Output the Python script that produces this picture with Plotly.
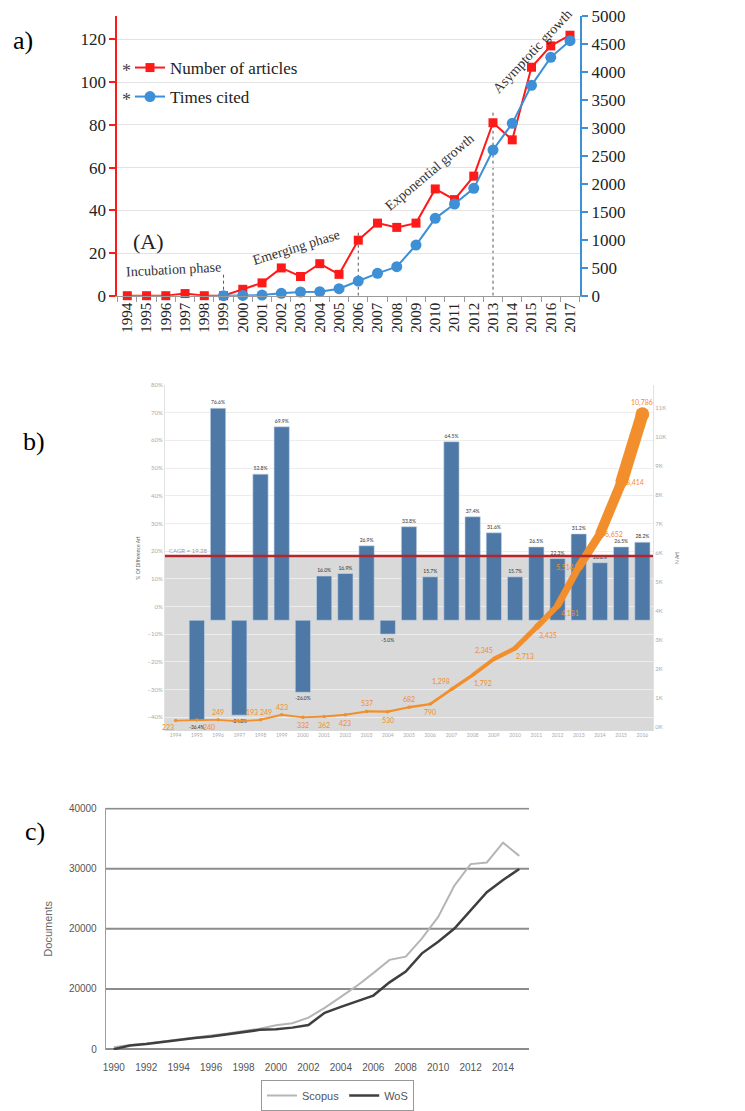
import plotly.graph_objects as go

W, H = 745, 1111

# ---------------- data ----------------
# panel a
years_a = list(range(1994, 2018))
articles = [0, 0, 0, 1, 0, 0, 3, 6, 13, 9, 15, 10, 26, 34, 32, 34, 50, 45, 56, 81, 73, 107, 117, 122]
cited_years = list(range(1999, 2018))
cited = [0, 5, 12, 42, 66, 72, 125, 262, 400, 519, 906, 1383, 1639, 1919, 2604, 3081, 3761, 4261, 4559]
phase_years = [1999, 2006, 2013]
phase_heights = [11, 31, 87]

# panel b
years_b = list(range(1994, 2017))
growth = [None, -36.4, 76.6, -34.3, 52.8, 69.9, -26.0, 16.0, 16.9, 26.9, -5.0, 33.8, 15.7,
          64.5, 37.4, 31.6, 15.7, 26.5, 22.3, 31.2, 20.8, 26.5, 28.2]
n_art = [223, 240, 249, 193, 249, 423, 332, 362, 423, 537, 530, 682, 790,
         1298, 1792, 2345, 2713, 3435, 4181, 5514, 6652, 8414, 10786]
cagr_label = "CAGR = 19.28"
cagr_level = 18.2
bar_base = -5

# panel c
years_c = list(range(1990, 2016))
scopus = [300, 700, 930, 1260, 1540, 1920, 2250, 2580, 3020, 3400, 3960, 4290, 5220, 6870,
          8680, 10550, 12640, 14840, 15380, 18400, 21980, 27200, 30770, 31040, 34340, 32140]
wos = [0, 600, 850, 1200, 1500, 1850, 2100, 2500, 2900, 3200, 3300, 3570, 4010, 6040,
       7030, 7970, 8900, 11100, 12910, 15930, 17860, 20050, 23080, 26100, 28130, 29950]
c_tickvals = [0, 10000, 20000, 30000, 40000]
c_ticktext = ["0", "20000", "20000", "30000", "40000"]

# label offsets (pixels, dx right, dy down) for the orange value labels
label_offsets = [(-8, 6), (12, 7), (0, -8), (13, -9), (6, -8), (0, -8), (0, 8), (0, 8), (0, 8),
                 (0, -8), (0, 8), (0, -8), (0, 8), (-10, -8), (10, 8), (-10, -8), (10, 8),
                 (12, 8), (12, 8), (-14, 0), (14, 0), (14, 0), (0, -12)]


def px(x):
    return x / W


def py(y):
    return 1 - y / H


SERIF = "Liberation Serif, Times New Roman, serif"
TAB = "Lato, Open Sans, sans-serif"
NARROW = "Liberation Sans Narrow, Liberation Sans, Arial, sans-serif"

RED = "#ff1a1a"
BLUE = "#3d8fd6"
BAR = "#4e79a7"
ORANGE = "#f28e2b"

fig = go.Figure()

# ---------- panel a ----------
fig.add_trace(go.Scatter(
    x=years_a, y=articles, mode="lines+markers", name="Number of articles",
    line=dict(color=RED, width=2), marker=dict(symbol="square", size=9, color=RED),
    xaxis="x", yaxis="y", legend="legend", cliponaxis=False))
fig.add_trace(go.Scatter(
    x=cited_years, y=cited, mode="lines+markers", name="Times cited",
    line=dict(color=BLUE, width=2), marker=dict(symbol="circle", size=11, color=BLUE),
    xaxis="x", yaxis="y2", legend="legend3", cliponaxis=False))

shapes = []
for yr, h in zip(phase_years, phase_heights):
    shapes.append(dict(type="line", xref="x", yref="y", x0=yr, x1=yr, y0=0, y1=h,
                       line=dict(color="#555", width=1, dash="dot"), layer="below"))

# ---------- panel b ----------
bx = [y for y, g in zip(years_b, growth) if g is not None]
bg = [g for g in growth if g is not None]
fig.add_trace(go.Bar(
    x=bx, y=bg, base=bar_base, marker=dict(color=BAR, line=dict(color="#c9d6e6", width=0.6)),
    width=0.72, text=[f"{v:.1f}%" for v in bg], textposition="outside",
    textfont=dict(size=5, color="#333", family=TAB), cliponaxis=False,
    xaxis="x2", yaxis="y3", showlegend=False, hoverinfo="skip"))

# varying width orange line
for i in range(len(years_b) - 1):
    w = 1.5 + (n_art[i] + n_art[i + 1]) / 2 / 880
    fig.add_trace(go.Scatter(
        x=[years_b[i], years_b[i + 1]], y=[n_art[i], n_art[i + 1]], mode="lines",
        line=dict(color=ORANGE, width=w), xaxis="x2", yaxis="y4", showlegend=False,
        hoverinfo="skip"))
fig.add_trace(go.Scatter(
    x=years_b, y=n_art, mode="markers",
    marker=dict(color=ORANGE, size=[max(3.5, 1.5 + v / 880) for v in n_art],
                line=dict(width=0), opacity=1),
    xaxis="x2", yaxis="y4", showlegend=False, hoverinfo="skip"))

shapes.append(dict(type="rect", xref="x2", yref="y3", x0=1993.5, x1=2016.5, y0=-45, y1=cagr_level,
                   fillcolor="#d9d9d9", line=dict(width=0), layer="below"))
shapes.append(dict(type="line", xref="x2", yref="y3", x0=1993.5, x1=2016.5, y0=cagr_level,
                   y1=cagr_level, line=dict(color="#b3262b", width=2.5), layer="above"))

# ---------- panel c ----------
fig.add_trace(go.Scatter(
    x=years_c, y=scopus, mode="lines", name="Scopus", line=dict(color="#b5b5b5", width=2),
    xaxis="x3", yaxis="y5", legend="legend2"))
fig.add_trace(go.Scatter(
    x=years_c, y=wos, mode="lines", name="WoS", line=dict(color="#3f3f3f", width=2.5),
    xaxis="x3", yaxis="y5", legend="legend2"))
for v in c_tickvals:
    shapes.append(dict(type="line", xref="x3 domain", yref="y5", x0=0, x1=1, y0=v, y1=v,
                       line=dict(color="#8c8c8c", width=2), layer="below"))


def ann(text, x, y, size, family=SERIF, color="#222", angle=0):
    return dict(text=text, x=px(x), y=py(y), xref="paper", yref="paper", showarrow=False,
                xanchor="center", yanchor="middle", textangle=angle,
                font=dict(family=family, size=size, color=color))


annotations = [
    ann("a)", 23, 40, 26, color="#000"),
    ann("b)", 34, 441, 26, color="#000"),
    ann("c)", 35, 831, 26, color="#000"),
    ann("*", 126, 71, 18, color="#444"),
    ann("*", 126, 100, 18, color="#444"),
    ann("(A)", 148, 241, 22),
    ann("Incubation phase", 173, 269, 14, color="#333", angle=-3),
    ann("Emerging phase", 296, 247, 14, color="#333", angle=-17),
    ann("Exponential growth", 429, 172, 14, color="#333", angle=-40),
    ann("Asymptotic growth", 532, 51, 14, color="#333", angle=-47),
    dict(text=cagr_label, x=1993.6, y=cagr_level, xref="x2", yref="y3", showarrow=False,
         xanchor="left", yanchor="bottom", font=dict(family=TAB, size=6, color="#999")),
]
for yr, v, (dx, dy) in zip(years_b, n_art, label_offsets):
    annotations.append(dict(text=f"{v:,}", x=yr, y=v, xref="x2", yref="y4", showarrow=False,
                            xanchor="center", yanchor="middle", xshift=dx, yshift=-dy,
                            font=dict(family=TAB, size=7, color=ORANGE)))

fig.update_layout(
    width=W, height=H, margin=dict(l=0, r=0, t=0, b=0, autoexpand=False),
    paper_bgcolor="white", plot_bgcolor="white",
    shapes=shapes, annotations=annotations, bargap=0.3,
    xaxis=dict(domain=[px(117.3), px(580)], anchor="y", range=[1993.48, 2017.52], automargin=False,
               tickvals=years_a, tickangle=-90, tickfont=dict(family=SERIF, size=15, color="#222"),
               showgrid=False, showline=True, linecolor="#9a9a9a", linewidth=1, ticks="",
               minor=dict(ticks="outside", tick0=1993.5, dtick=1, ticklen=5, tickcolor="#9a9a9a"),
               zeroline=False),
    yaxis=dict(domain=[py(295.7), py(16)], anchor="x", range=[0, 131], automargin=False,
               tickvals=[0, 20, 40, 60, 80, 100, 120], showline=True, linecolor=RED, linewidth=2,
               ticks="outside", tickcolor=RED, ticklen=6, tickwidth=2,
               gridcolor="#e3e3e3", zeroline=False,
               tickfont=dict(family=SERIF, size=17, color="#222")),
    yaxis2=dict(overlaying="y", anchor="x", side="right", range=[0, 5000], dtick=500, automargin=False,
                showline=True, linecolor=BLUE, linewidth=2, ticks="outside", tickcolor=BLUE,
                ticklen=6, tickwidth=2, showgrid=False, zeroline=False,
                tickfont=dict(family=SERIF, size=17, color="#222")),
    xaxis2=dict(domain=[px(165), px(653)], anchor="y3", range=[1993.5, 2016.5], automargin=False,
                tickvals=years_b, tickfont=dict(family=TAB, size=5, color="#aaa"),
                showgrid=False, showline=False, zeroline=False, ticks=""),
    yaxis3=dict(domain=[py(731), py(385)], anchor="x2", range=[-45, 80], dtick=10, automargin=False,
                ticksuffix="%", tickfont=dict(family=TAB, size=6, color="#aaa"),
                gridcolor="#ededed", zeroline=False, showline=True, linecolor="#e2e2e2",
                title=dict(text="% Of Difference Art", font=dict(family=TAB, size=5, color="#666"),
                           standoff=6)),
    yaxis4=dict(overlaying="y3", anchor="x2", side="right", range=[-138, 11793], automargin=False,
                tickvals=[k * 1000 for k in range(12)], ticktext=[f"{k}K" for k in range(12)],
                tickfont=dict(family=TAB, size=6, color="#aaa"), showgrid=False, zeroline=False,
                showline=True, linecolor="#e2e2e2",
                title=dict(text="N Art", font=dict(family=TAB, size=5, color="#666"), standoff=10)),
    xaxis3=dict(domain=[px(105.7), px(529)], anchor="y5", range=[1989.5, 2015.6], automargin=False,
                tickvals=list(range(1990, 2015, 2)), tickfont=dict(family=NARROW, size=10, color="#555"),
                showgrid=False, showline=False, zeroline=False, ticks="", ticklabelstandoff=10),
    yaxis5=dict(domain=[py(1050), py(807.7)], anchor="x3", range=[-150, 40150], automargin=False,
                tickvals=c_tickvals, ticktext=c_ticktext,
                tickfont=dict(family=NARROW, size=10, color="#555"), ticklabelstandoff=6,
                showgrid=False, zeroline=False, showline=True,
                linecolor="#a0a0a0", linewidth=1,
                title=dict(text="Documents", font=dict(family=NARROW, size=11, color="#666"),
                           standoff=14)),
    legend=dict(x=px(130), y=py(68), xanchor="left", yanchor="middle",
                bgcolor="rgba(0,0,0,0)", font=dict(family=SERIF, size=17, color="#222")),
    legend3=dict(x=px(130), y=py(97), xanchor="left", yanchor="middle",
                 bgcolor="rgba(0,0,0,0)", font=dict(family=SERIF, size=17, color="#222")),
    legend2=dict(x=px(261), y=0, xanchor="left", yanchor="bottom", orientation="h",
                 bgcolor="white", bordercolor="#999", borderwidth=1,
                 font=dict(family=NARROW, size=11, color="#555")),
)

fig.write_html("out.html")
